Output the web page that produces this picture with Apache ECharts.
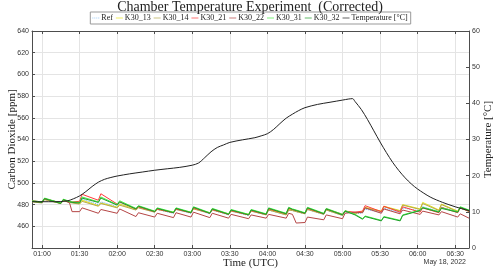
<!DOCTYPE html>
<html><head><meta charset="utf-8">
<script src="https://cdn.jsdelivr.net/npm/echarts@6/dist/echarts.min.js"></script>
<style>html,body{margin:0;padding:0;background:#fff}#c{width:500px;height:270px}</style>
</head><body><div id="c"></div>
<script>
// minutes since 00:00 UTC
var co2Times = [52,60,62,75,77,82,84,90,92,105,107,120,122,135,137,150,152,165,167,179,181,194,196,209,211,225,227,239,241,255,257,260,263,270,272,285,287,300,302,310,316,318,331,333,346,348,362,364,377,379,392,394,401];
var ref   = [483,482,485,481,484,482.5,482,481.5,485,480,482.5,478,481,475,477.5,473,475.5,472,475.5,472,476.5,471.5,475,470.5,474,470,474,470.5,475,470.5,475,474.5,473.5,471.5,475.5,471,475,470,473.5,471.5,472.5,476,472.5,476.5,472.5,477,474,478,473.5,477.5,473,477,474];
var k30_13 = [483,482,485,481,484,482.5,482,481,484,479,481.5,477.5,480.5,475.5,478,473.5,476,473,476,473,476.5,472.5,475.5,471.5,474.5,471,474.5,471,475.5,471,475.5,475,474,472,476,471.5,475.5,470.5,474,472,473.5,477.5,474,478.5,474.5,480,476,482,475,480.5,474,477.5,474];
var k30_14 = [482.5,481.5,484.5,481,483.5,482,481.5,480.5,483,478.5,481,477,479.5,475,477,473,475.5,472.5,475.5,472.5,476,472,475,471,474,470.5,474,470.5,475,470.5,475,474.5,473.5,471.5,475.5,471,475,470,473.5,472,473,477,473.5,478,474,479.5,475.5,481,474.5,480,473.5,477,473.5];
var k30_21 = [483.5,482,485.5,481.5,484.5,483,482.5,483,489.5,484,490,480.5,482.5,476,478,473.5,476,472.5,476,472.5,477,472,475.5,471,474.5,470.5,474.5,471,476,471.5,476.5,475.5,474.5,472,476.5,471.5,476,471,474,473,474,479,473.5,478.5,473,478,473,477,472.5,477.5,472.5,477,474];
var k30_22 = [483.5,482.5,485.5,481.5,484.5,481.5,473.5,473.5,477,472,475.5,472,476,469,472.5,468.5,472,468,472.5,468.5,473,468,472,467.5,471,467,470.5,467.5,471,467.5,472,471,463,463.5,468.5,466,470.5,467,472,473,472.5,477,472,476,471.5,475,471,474,470.5,473.5,468.5,471.5,467.5];
var k30_31 = [483.5,482.5,486,481.5,485,483,482.5,482,487,482.5,487,480,483.5,476.5,479,474,477,473,477,473,478,472.5,476.5,471.5,475.5,471,475.5,471.5,477,472,477.5,476,475,472.5,477.5,472,476.5,471,474.5,471,467,469.5,465.5,469,465.5,470.5,475,477.5,473.5,477,473.5,478,475];
var k30_32 = [483,482,485.5,481,484.5,482.5,482,481.5,486,482,486,479.5,482.5,476,478.5,473.5,476.5,472.5,476.5,472.5,477.5,472,476,471,475,470.5,475,471,476.5,471.5,477,475.5,474.5,472,477,471.5,476,470.5,474,470.5,466.5,469,465,468.5,465,470,474.5,477,473,476.5,473,477.5,474.5];
var tempTimes = [52,60,70,80,85,90,95,100,105,110,115,120,130,140,150,160,170,180,185,190,195,200,205,210,220,230,235,240,245,250,255,260,265,270,280,290,300,305,308,310,315,320,325,330,335,340,345,350,355,360,370,380,390,401];
var temperature = [12.8,12.8,12.8,13.0,13.6,14.4,15.6,17.0,18.2,19.0,19.5,19.9,20.5,21.0,21.5,21.9,22.3,22.9,23.5,25.0,26.6,27.8,28.5,29.2,29.9,30.5,31.0,31.6,32.8,34.4,35.9,37.0,38.0,38.8,39.7,40.3,40.9,41.2,41.3,40.5,38.3,35.5,32.4,29.3,26.4,23.7,21.4,19.4,17.7,16.3,14.1,12.6,11.4,10.3];
var timeTicks = [60,90,120,150,180,210,240,270,300,330,360,390];
var seriesNames = ['Ref','K30_13','K30_14','K30_21','K30_22','K30_31','K30_32'];
var seriesColors = ['#4da3f0','#e8e41a','#b5a84a','#ff3b3b','#b54545','#44ee44','#1f9e2a'];
var co2Values = [ref,k30_13,k30_14,k30_21,k30_22,k30_31,k30_32];

function pair(ts, vs){ return ts.map(function(t,i){return [t, vs[i]];}); }
function hhmm(v){ var h=Math.floor(v/60), m=Math.round(v%60); return (h<10?'0':'')+h+':'+(m<10?'0':'')+m; }

var serif = 'Liberation Serif', sans = 'Liberation Sans';
var axisCol = '#4d4d4d';
var solidIcon = 'path://M0,0h10v1h-10z';
var dotIcon = 'path://M0,0h1.5v1h-1.5zM2.8,0h1.5v1h-1.5zM5.6,0h1.5v1h-1.5zM8.4,0h1.6v1h-1.6z';
var series = co2Values.map(function(vals, i){
  return {name: seriesNames[i], type:'line', xAxisIndex:0, yAxisIndex:0, symbol:'none',
    data: pair(co2Times, vals), color: seriesColors[i],
    lineStyle:{width:1, color: seriesColors[i], type: i===0?'dotted':'solid'}};
});
series.push({name:'Temperature [°C]', type:'line', xAxisIndex:0, yAxisIndex:1, symbol:'none', smooth:0.3,
  data: pair(tempTimes, temperature), color:'#222', lineStyle:{width:1, color:'#222'}});

var legendData = seriesNames.concat(['Temperature [°C]']).map(function(n, i){
  return {name:n, icon: i===0 ? dotIcon : solidIcon};
});

var chart = echarts.init(document.getElementById('c'), null, {renderer:'canvas'});
chart.setOption({
  animation:false,
  backgroundColor:'#fff',
  title:{text:'Chamber Temperature Experiment  (Corrected)', left:'center', top:0, padding:0,
    textStyle:{fontFamily:serif, fontSize:14, fontWeight:'normal', color:'#222'}},
  legend:{top:12, left:'center', data: legendData,
    itemWidth:7, itemHeight:1, itemGap:3, padding:[2,3,2,2], borderWidth:1, borderColor:'#999', backgroundColor:'#fff',
    textStyle:{fontFamily:serif, fontSize:8, color:'#222', padding:[0,0,0,-3]}},
  grid:{left:32, right:31, top:31, bottom:22, containLabel:false, outerBoundsMode:'none'},
  xAxis:[
    {type:'value', min:52, max:401, position:'bottom',
     name:'Time (UTC)', nameLocation:'middle', nameGap:10, nameMoveOverlap:false,
     nameTextStyle:{fontFamily:serif, fontSize:11, color:'#222'},
     axisLine:{show:true, onZero:false, lineStyle:{color:axisCol, width:1}},
     axisTick:{show:true, inside:true, length:3, customValues:timeTicks, lineStyle:{color:axisCol}},
     axisLabel:{customValues:timeTicks, formatter:function(v){return hhmm(v);}, fontFamily:sans, fontSize:7, color:'#333', margin:3},
     splitLine:{show:true, lineStyle:{color:'#e4e4e4', width:1}}},
    {type:'value', min:52, max:401, position:'top',
     axisLine:{show:true, onZero:false, lineStyle:{color:axisCol, width:1}},
     axisTick:{show:true, inside:true, length:3, customValues:timeTicks, lineStyle:{color:axisCol}},
     axisLabel:{show:false}, splitLine:{show:false}}
  ],
  yAxis:[
    {type:'value', min:440, max:640, interval:20, position:'left',
     name:'Carbon Dioxide [ppm]', nameLocation:'middle', nameGap:14, nameMoveOverlap:false,
     nameTextStyle:{fontFamily:serif, fontSize:11, color:'#222'},
     axisLine:{show:true, onZero:false, lineStyle:{color:axisCol, width:1}},
     axisTick:{show:true, inside:true, length:3, lineStyle:{color:axisCol}},
     axisLabel:{fontFamily:sans, fontSize:7, color:'#333', margin:3, formatter:function(v){return v===440?'':String(v);}},
     splitLine:{show:true, lineStyle:{color:'#e4e4e4', width:1}}},
    {type:'value', min:0, max:60, interval:10, position:'right',
     name:'Temperature [°C]', nameLocation:'middle', nameGap:14, nameMoveOverlap:false,
     nameTextStyle:{fontFamily:serif, fontSize:11, color:'#222'},
     axisLine:{show:true, onZero:false, lineStyle:{color:axisCol, width:1}},
     axisTick:{show:true, inside:true, length:3, lineStyle:{color:axisCol}},
     axisLabel:{fontFamily:sans, fontSize:7, color:'#333', margin:3},
     splitLine:{show:false}}
  ],
  graphic:[{type:'text', right:34, top:259, style:{text:'May 18, 2022', font:'7px "Liberation Sans"', fill:'#333'}}],
  series: series
});
</script></body></html>
